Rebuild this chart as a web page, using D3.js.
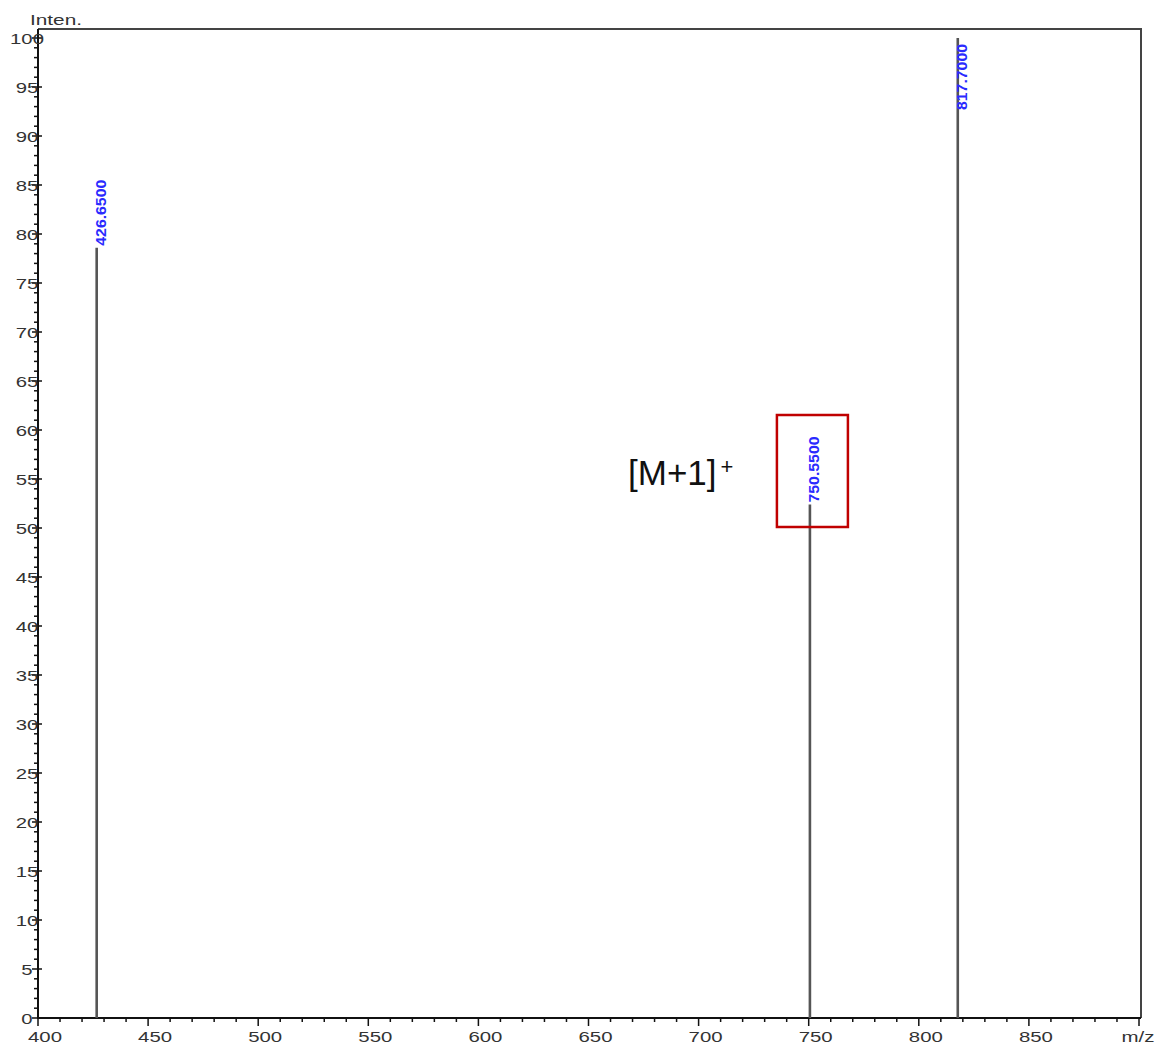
<!DOCTYPE html>
<html>
<head>
<meta charset="utf-8">
<script src="https://cdn.jsdelivr.net/npm/d3@7"></script>
<style>
  body { margin: 0; background: #fff; }
  svg { display: block; font-family: "Liberation Sans", Arial, sans-serif; }
</style>
</head>
<body>
<svg id="chart" width="1162" height="1048"></svg>
<script>
// peak list
const peakMz = [426.65, 750.55, 817.7];
const peakInten = [78.6, 52.4, 100];
const peakLabels = ["426.6500", "750.5500", "817.7000"];
const xTicks = [400, 450, 500, 550, 600, 650, 700, 750, 800, 850];
const yTicks = [0, 5, 10, 15, 20, 25, 30, 35, 40, 45, 50, 55, 60, 65, 70, 75, 80, 85, 90, 95, 100];
const annotation = { mz: 750.55, text: "[M+1]", sup: "+" };

const svg = d3.select("#chart");
const x = d3.scaleLinear().domain([400, 900]).range([38, 1139]);
const y = d3.scaleLinear().domain([0, 100]).range([1018, 38]);

const axisColor = "#111";
const labelColor = "#333";

// frame (top + right)
svg.append("path")
  .attr("d", `M38,29H1141V1018`)
  .attr("fill", "none")
  .attr("stroke", "#444")
  .attr("stroke-width", 2);

// y axis line and ticks
svg.append("line")
  .attr("x1", 38).attr("x2", 38).attr("y1", 29).attr("y2", 1019)
  .attr("stroke", axisColor).attr("stroke-width", 2);

const yMinor = d3.range(0, 101, 1);
svg.append("g").selectAll("line").data(yMinor).join("line")
  .attr("x1", d => d % 5 === 0 ? 32 : 34)
  .attr("x2", d => d % 5 === 0 ? 42 : 38)
  .attr("y1", d => y(d)).attr("y2", d => y(d))
  .attr("stroke", axisColor).attr("stroke-width", 1.5);

svg.append("g").selectAll("text").data(yTicks).join("text")
  .attr("x", 27).attr("y", d => y(d) + 6)
  .attr("text-anchor", "middle")
  .attr("font-size", 15)
  .attr("fill", labelColor)
  .attr("textLength", d => String(d).length * 11.3)
  .attr("lengthAdjust", "spacingAndGlyphs")
  .text(d => d);

// x axis line and ticks
svg.append("line")
  .attr("x1", 38).attr("x2", 1141).attr("y1", 1018).attr("y2", 1018)
  .attr("stroke", axisColor).attr("stroke-width", 2);

const xMinor = d3.range(400, 901, 10);
svg.append("g").selectAll("line").data(xMinor).join("line")
  .attr("x1", d => x(d)).attr("x2", d => x(d))
  .attr("y1", 1018).attr("y2", d => d % 50 === 0 ? 1026 : 1022)
  .attr("stroke", axisColor).attr("stroke-width", 1.5);

svg.append("g").selectAll("text").data(xTicks).join("text")
  .attr("x", d => x(d) + 7).attr("y", 1042)
  .attr("text-anchor", "middle")
  .attr("font-size", 15)
  .attr("fill", labelColor)
  .attr("textLength", 34)
  .attr("lengthAdjust", "spacingAndGlyphs")
  .text(d => d);

svg.append("text")
  .attr("x", 1138).attr("y", 1042)
  .attr("text-anchor", "middle")
  .attr("font-size", 15).attr("fill", labelColor)
  .attr("textLength", 33).attr("lengthAdjust", "spacingAndGlyphs")
  .text("m/z");

svg.append("text")
  .attr("x", 30).attr("y", 25)
  .attr("font-size", 15).attr("fill", labelColor)
  .attr("textLength", 52).attr("lengthAdjust", "spacingAndGlyphs")
  .text("Inten.");

// peaks
const peaks = peakMz.map((mz, i) => ({ mz, inten: peakInten[i], label: peakLabels[i] }));

svg.append("g").selectAll("line").data(peaks).join("line")
  .attr("x1", d => x(d.mz)).attr("x2", d => x(d.mz))
  .attr("y1", y(0)).attr("y2", d => y(d.inten))
  .attr("stroke", "#555").attr("stroke-width", 2.6);

// rotated peak labels; clamp inside the frame when the peak hits the top
svg.append("g").selectAll("text").data(peaks).join("text")
  .attr("transform", d => {
    const top = Math.max(y(d.inten) - 2, 110);
    return `translate(${x(d.mz) + 9},${top}) rotate(-90)`;
  })
  .attr("font-size", 14)
  .attr("font-weight", "bold")
  .attr("fill", "#2a2aff")
  .attr("textLength", 66)
  .attr("lengthAdjust", "spacingAndGlyphs")
  .text(d => d.label);

// annotation box around the molecular ion
svg.append("rect")
  .attr("x", x(annotation.mz) - 33).attr("y", 415)
  .attr("width", 71).attr("height", 112)
  .attr("fill", "none")
  .attr("stroke", "#c00000")
  .attr("stroke-width", 2.5);

const ann = svg.append("text")
  .attr("x", 628).attr("y", 485)
  .attr("font-size", 35)
  .attr("fill", "#111");
ann.append("tspan").text(annotation.text);
ann.append("tspan").attr("font-size", 22).attr("dy", -11).attr("dx", 4).text(annotation.sup);
</script>
</body>
</html>
